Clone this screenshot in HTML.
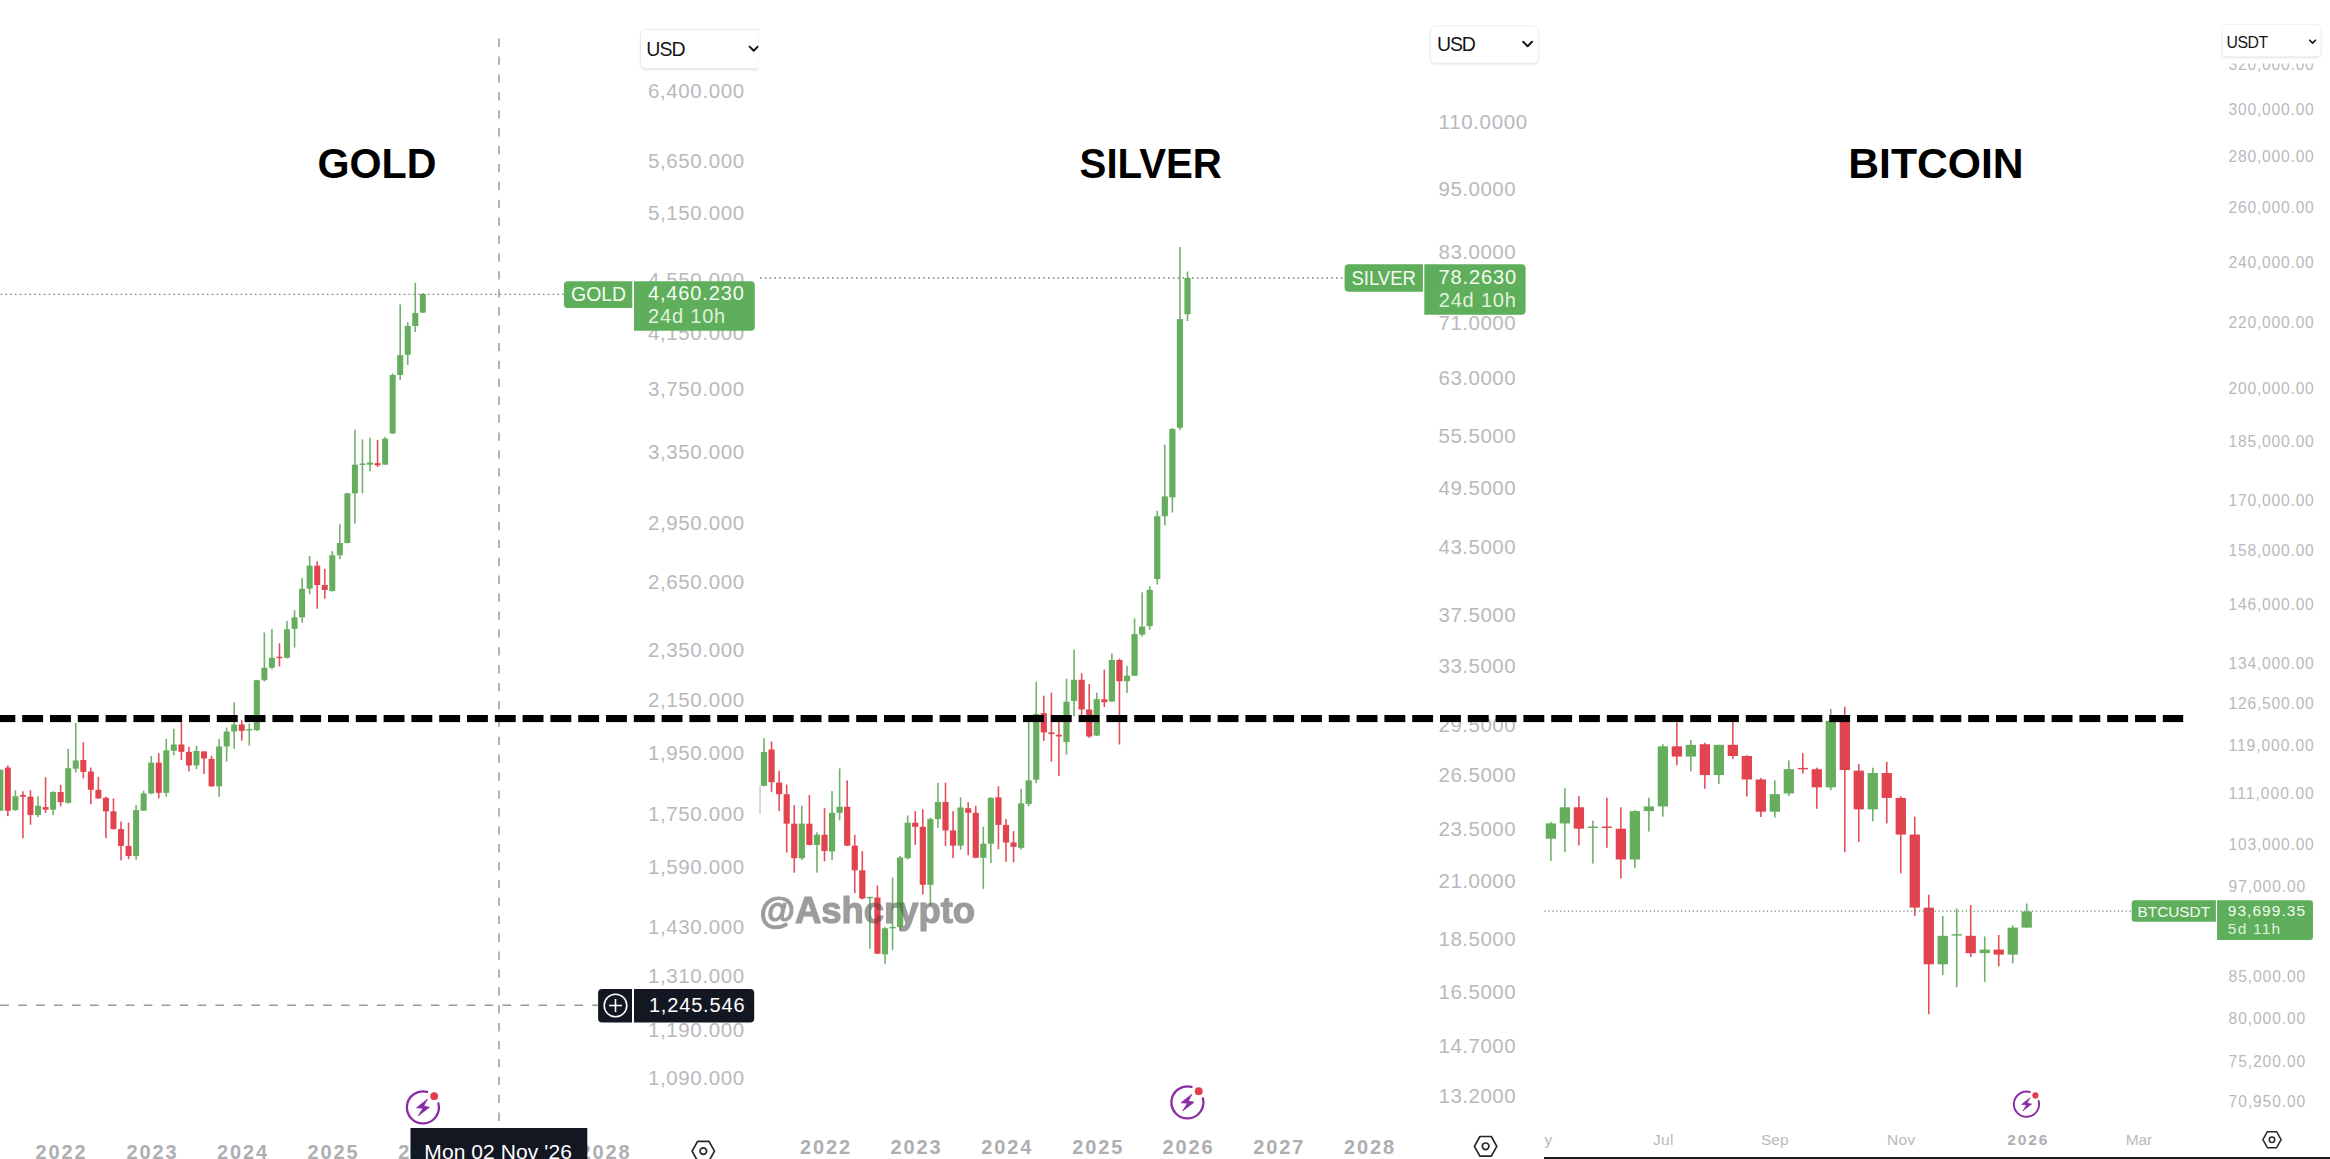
<!DOCTYPE html>
<html><head><meta charset="utf-8"><title>Gold Silver Bitcoin</title>
<style>html,body{margin:0;padding:0;background:#fff;}body{width:2330px;height:1159px;overflow:hidden;font-family:"Liberation Sans",sans-serif;}svg{display:block;}</style></head>
<body>
<svg width="2330" height="1159" viewBox="0 0 2330 1159" font-family="'Liberation Sans', sans-serif">
<rect x="0" y="0" width="2330" height="1159" fill="#ffffff"/>
<defs>
<clipPath id="cg"><rect x="0" y="0" width="758.5" height="1159"/></clipPath>
<clipPath id="cs"><rect x="759.5" y="0" width="784" height="1159"/></clipPath>
<clipPath id="cb"><rect x="1544" y="0" width="786" height="1159"/></clipPath>
<clipPath id="c320"><rect x="2200" y="63.6" width="130" height="20"/></clipPath>
<filter id="sh" x="-10%" y="-20%" width="120%" height="150%"><feGaussianBlur stdDeviation="1.2"/></filter>
</defs>
<g clip-path="url(#cg)">
<text x="647.90" y="98.14" font-size="20.5" fill="#b9b9bd" font-weight="normal" text-anchor="start" textLength="96.30" lengthAdjust="spacing" >6,400.000</text>
<text x="647.90" y="168.24" font-size="20.5" fill="#b9b9bd" font-weight="normal" text-anchor="start" textLength="96.30" lengthAdjust="spacing" >5,650.000</text>
<text x="647.90" y="219.64" font-size="20.5" fill="#b9b9bd" font-weight="normal" text-anchor="start" textLength="96.30" lengthAdjust="spacing" >5,150.000</text>
<text x="647.90" y="287.44" font-size="20.5" fill="#b9b9bd" font-weight="normal" text-anchor="start" textLength="96.30" lengthAdjust="spacing" >4,550.000</text>
<text x="647.90" y="340.44" font-size="20.5" fill="#b9b9bd" font-weight="normal" text-anchor="start" textLength="96.30" lengthAdjust="spacing" >4,150.000</text>
<text x="647.90" y="396.14" font-size="20.5" fill="#b9b9bd" font-weight="normal" text-anchor="start" textLength="96.30" lengthAdjust="spacing" >3,750.000</text>
<text x="647.90" y="459.44" font-size="20.5" fill="#b9b9bd" font-weight="normal" text-anchor="start" textLength="96.30" lengthAdjust="spacing" >3,350.000</text>
<text x="647.90" y="529.94" font-size="20.5" fill="#b9b9bd" font-weight="normal" text-anchor="start" textLength="96.30" lengthAdjust="spacing" >2,950.000</text>
<text x="647.90" y="589.44" font-size="20.5" fill="#b9b9bd" font-weight="normal" text-anchor="start" textLength="96.30" lengthAdjust="spacing" >2,650.000</text>
<text x="647.90" y="657.44" font-size="20.5" fill="#b9b9bd" font-weight="normal" text-anchor="start" textLength="96.30" lengthAdjust="spacing" >2,350.000</text>
<text x="647.90" y="706.94" font-size="20.5" fill="#b9b9bd" font-weight="normal" text-anchor="start" textLength="96.30" lengthAdjust="spacing" >2,150.000</text>
<text x="647.90" y="760.44" font-size="20.5" fill="#b9b9bd" font-weight="normal" text-anchor="start" textLength="96.30" lengthAdjust="spacing" >1,950.000</text>
<text x="647.90" y="821.44" font-size="20.5" fill="#b9b9bd" font-weight="normal" text-anchor="start" textLength="96.30" lengthAdjust="spacing" >1,750.000</text>
<text x="647.90" y="874.44" font-size="20.5" fill="#b9b9bd" font-weight="normal" text-anchor="start" textLength="96.30" lengthAdjust="spacing" >1,590.000</text>
<text x="647.90" y="933.64" font-size="20.5" fill="#b9b9bd" font-weight="normal" text-anchor="start" textLength="96.30" lengthAdjust="spacing" >1,430.000</text>
<text x="647.90" y="982.54" font-size="20.5" fill="#b9b9bd" font-weight="normal" text-anchor="start" textLength="96.30" lengthAdjust="spacing" >1,310.000</text>
<text x="647.90" y="1036.74" font-size="20.5" fill="#b9b9bd" font-weight="normal" text-anchor="start" textLength="96.30" lengthAdjust="spacing" >1,190.000</text>
<text x="647.90" y="1085.24" font-size="20.5" fill="#b9b9bd" font-weight="normal" text-anchor="start" textLength="96.30" lengthAdjust="spacing" >1,090.000</text>
<text x="35.60" y="1159.00" font-size="20" fill="#aeaeb2" font-weight="bold" text-anchor="start" textLength="50.10" lengthAdjust="spacing" >2022</text>
<text x="126.40" y="1159.00" font-size="20" fill="#aeaeb2" font-weight="bold" text-anchor="start" textLength="50.10" lengthAdjust="spacing" >2023</text>
<text x="217.10" y="1159.00" font-size="20" fill="#aeaeb2" font-weight="bold" text-anchor="start" textLength="50.10" lengthAdjust="spacing" >2024</text>
<text x="307.60" y="1159.00" font-size="20" fill="#aeaeb2" font-weight="bold" text-anchor="start" textLength="50.10" lengthAdjust="spacing" >2025</text>
<text x="398.30" y="1159.00" font-size="20" fill="#aeaeb2" font-weight="bold" text-anchor="start" textLength="50.10" lengthAdjust="spacing" >2026</text>
<text x="489.00" y="1159.00" font-size="20" fill="#aeaeb2" font-weight="bold" text-anchor="start" textLength="50.10" lengthAdjust="spacing" >2027</text>
<text x="579.40" y="1159.00" font-size="20" fill="#aeaeb2" font-weight="bold" text-anchor="start" textLength="50.10" lengthAdjust="spacing" >2028</text>
<line x1="499" y1="38.6" x2="499" y2="1128" stroke="#9a9a9c" stroke-width="1.5" stroke-dasharray="8.3 9.6"/>
<line x1="-17.74" y1="1005.2" x2="598" y2="1005.2" stroke="#9a9a9c" stroke-width="1.5" stroke-dasharray="8.7 9.24"/>
<rect x="-0.50" y="769.74" width="1.60" height="40.99" fill="#70b269"/>
<rect x="-2.70" y="769.74" width="6.00" height="40.99" fill="#66ad5e"/>
<rect x="7.04" y="765.43" width="1.60" height="50.70" fill="#e4505a"/>
<rect x="4.84" y="767.58" width="6.00" height="43.15" fill="#e2444f"/>
<rect x="14.59" y="790.24" width="1.60" height="20.50" fill="#70b269"/>
<rect x="12.39" y="796.28" width="6.00" height="13.81" fill="#66ad5e"/>
<rect x="22.13" y="791.32" width="1.60" height="46.82" fill="#e4505a"/>
<rect x="19.93" y="794.98" width="6.00" height="1.73" fill="#e2444f"/>
<rect x="29.68" y="790.24" width="1.60" height="34.52" fill="#e4505a"/>
<rect x="27.48" y="796.71" width="6.00" height="18.34" fill="#e2444f"/>
<rect x="37.23" y="796.28" width="1.60" height="20.93" fill="#70b269"/>
<rect x="35.02" y="805.77" width="6.00" height="9.28" fill="#66ad5e"/>
<rect x="44.77" y="777.29" width="1.60" height="35.60" fill="#e4505a"/>
<rect x="42.57" y="807.07" width="6.00" height="2.59" fill="#e2444f"/>
<rect x="52.31" y="791.32" width="1.60" height="23.73" fill="#70b269"/>
<rect x="50.11" y="791.96" width="6.00" height="17.69" fill="#66ad5e"/>
<rect x="59.86" y="784.84" width="1.60" height="21.57" fill="#e4505a"/>
<rect x="57.66" y="791.96" width="6.00" height="10.14" fill="#e2444f"/>
<rect x="67.41" y="748.81" width="1.60" height="54.80" fill="#70b269"/>
<rect x="65.20" y="768.23" width="6.00" height="34.52" fill="#66ad5e"/>
<rect x="74.95" y="722.92" width="1.60" height="49.62" fill="#70b269"/>
<rect x="72.75" y="760.46" width="6.00" height="8.20" fill="#66ad5e"/>
<rect x="82.50" y="742.34" width="1.60" height="36.03" fill="#e4505a"/>
<rect x="80.30" y="760.03" width="6.00" height="11.87" fill="#e2444f"/>
<rect x="90.04" y="767.58" width="1.60" height="36.68" fill="#e4505a"/>
<rect x="87.84" y="771.47" width="6.00" height="18.34" fill="#e2444f"/>
<rect x="97.58" y="776.86" width="1.60" height="22.01" fill="#e4505a"/>
<rect x="95.38" y="789.81" width="6.00" height="8.63" fill="#e2444f"/>
<rect x="105.13" y="796.71" width="1.60" height="41.42" fill="#e4505a"/>
<rect x="102.93" y="797.79" width="6.00" height="13.59" fill="#e2444f"/>
<rect x="112.67" y="798.44" width="1.60" height="31.07" fill="#e4505a"/>
<rect x="110.47" y="811.38" width="6.00" height="17.69" fill="#e2444f"/>
<rect x="120.22" y="821.52" width="1.60" height="38.83" fill="#e4505a"/>
<rect x="118.02" y="829.07" width="6.00" height="16.83" fill="#e2444f"/>
<rect x="127.77" y="822.60" width="1.60" height="36.68" fill="#e4505a"/>
<rect x="125.56" y="845.90" width="6.00" height="10.14" fill="#e2444f"/>
<rect x="135.31" y="804.91" width="1.60" height="54.80" fill="#70b269"/>
<rect x="133.11" y="810.09" width="6.00" height="45.95" fill="#66ad5e"/>
<rect x="142.85" y="790.67" width="1.60" height="20.06" fill="#70b269"/>
<rect x="140.66" y="793.47" width="6.00" height="17.26" fill="#66ad5e"/>
<rect x="150.40" y="756.15" width="1.60" height="37.97" fill="#70b269"/>
<rect x="148.20" y="762.62" width="6.00" height="30.85" fill="#66ad5e"/>
<rect x="157.94" y="753.13" width="1.60" height="45.31" fill="#e4505a"/>
<rect x="155.75" y="762.62" width="6.00" height="30.20" fill="#e2444f"/>
<rect x="165.49" y="738.89" width="1.60" height="57.82" fill="#70b269"/>
<rect x="163.29" y="750.32" width="6.00" height="42.50" fill="#66ad5e"/>
<rect x="173.03" y="728.75" width="1.60" height="26.54" fill="#70b269"/>
<rect x="170.84" y="744.50" width="6.00" height="6.26" fill="#66ad5e"/>
<rect x="180.58" y="722.28" width="1.60" height="37.76" fill="#e4505a"/>
<rect x="178.38" y="744.50" width="6.00" height="7.34" fill="#e2444f"/>
<rect x="188.12" y="746.66" width="1.60" height="24.81" fill="#e4505a"/>
<rect x="185.93" y="751.83" width="6.00" height="13.59" fill="#e2444f"/>
<rect x="195.67" y="745.58" width="1.60" height="23.52" fill="#70b269"/>
<rect x="193.47" y="750.97" width="6.00" height="14.46" fill="#66ad5e"/>
<rect x="203.22" y="751.40" width="1.60" height="22.65" fill="#e4505a"/>
<rect x="201.02" y="751.40" width="6.00" height="7.12" fill="#e2444f"/>
<rect x="210.76" y="755.72" width="1.60" height="31.07" fill="#e4505a"/>
<rect x="208.56" y="758.95" width="6.00" height="27.40" fill="#e2444f"/>
<rect x="218.31" y="739.10" width="1.60" height="57.61" fill="#70b269"/>
<rect x="216.11" y="746.44" width="6.00" height="39.91" fill="#66ad5e"/>
<rect x="225.85" y="727.67" width="1.60" height="34.09" fill="#70b269"/>
<rect x="223.65" y="731.55" width="6.00" height="14.89" fill="#66ad5e"/>
<rect x="233.40" y="702.21" width="1.60" height="46.60" fill="#70b269"/>
<rect x="231.20" y="724.43" width="6.00" height="7.12" fill="#66ad5e"/>
<rect x="240.94" y="720.12" width="1.60" height="20.50" fill="#e4505a"/>
<rect x="238.74" y="724.43" width="6.00" height="6.47" fill="#e2444f"/>
<rect x="248.48" y="723.35" width="1.60" height="22.22" fill="#70b269"/>
<rect x="246.28" y="729.13" width="6.00" height="1.40" fill="#66ad5e"/>
<rect x="256.03" y="679.77" width="1.60" height="51.13" fill="#70b269"/>
<rect x="253.83" y="680.20" width="6.00" height="50.05" fill="#66ad5e"/>
<rect x="263.57" y="632.51" width="1.60" height="48.98" fill="#70b269"/>
<rect x="261.38" y="667.68" width="6.00" height="12.51" fill="#66ad5e"/>
<rect x="271.12" y="628.85" width="1.60" height="40.35" fill="#70b269"/>
<rect x="268.92" y="657.76" width="6.00" height="9.92" fill="#66ad5e"/>
<rect x="278.67" y="643.30" width="1.60" height="23.09" fill="#e4505a"/>
<rect x="276.47" y="656.73" width="6.00" height="1.40" fill="#e2444f"/>
<rect x="286.21" y="621.08" width="1.60" height="37.32" fill="#70b269"/>
<rect x="284.01" y="629.28" width="6.00" height="28.48" fill="#66ad5e"/>
<rect x="293.75" y="610.29" width="1.60" height="37.32" fill="#70b269"/>
<rect x="291.56" y="617.41" width="6.00" height="11.43" fill="#66ad5e"/>
<rect x="301.30" y="577.93" width="1.60" height="44.88" fill="#70b269"/>
<rect x="299.10" y="588.72" width="6.00" height="28.69" fill="#66ad5e"/>
<rect x="308.84" y="555.92" width="1.60" height="38.40" fill="#70b269"/>
<rect x="306.64" y="565.63" width="6.00" height="23.09" fill="#66ad5e"/>
<rect x="316.39" y="561.32" width="1.60" height="47.46" fill="#e4505a"/>
<rect x="314.19" y="565.63" width="6.00" height="19.42" fill="#e2444f"/>
<rect x="323.94" y="568.87" width="1.60" height="29.77" fill="#e4505a"/>
<rect x="321.74" y="585.05" width="6.00" height="4.96" fill="#e2444f"/>
<rect x="331.48" y="551.18" width="1.60" height="40.35" fill="#70b269"/>
<rect x="329.28" y="555.28" width="6.00" height="35.81" fill="#66ad5e"/>
<rect x="339.02" y="524.21" width="1.60" height="34.95" fill="#70b269"/>
<rect x="336.82" y="542.98" width="6.00" height="12.30" fill="#66ad5e"/>
<rect x="346.57" y="492.92" width="1.60" height="50.49" fill="#70b269"/>
<rect x="344.37" y="493.35" width="6.00" height="49.62" fill="#66ad5e"/>
<rect x="354.12" y="429.71" width="1.60" height="93.85" fill="#70b269"/>
<rect x="351.92" y="464.66" width="6.00" height="28.69" fill="#66ad5e"/>
<rect x="361.66" y="439.42" width="1.60" height="53.94" fill="#70b269"/>
<rect x="359.46" y="463.53" width="6.00" height="1.40" fill="#66ad5e"/>
<rect x="369.20" y="437.69" width="1.60" height="33.66" fill="#70b269"/>
<rect x="367.00" y="462.50" width="6.00" height="2.16" fill="#66ad5e"/>
<rect x="376.75" y="439.85" width="1.60" height="27.18" fill="#e4505a"/>
<rect x="374.55" y="463.15" width="6.00" height="2.16" fill="#e2444f"/>
<rect x="384.30" y="436.83" width="1.60" height="28.05" fill="#70b269"/>
<rect x="382.10" y="438.77" width="6.00" height="25.89" fill="#66ad5e"/>
<rect x="391.84" y="373.47" width="1.60" height="60.41" fill="#70b269"/>
<rect x="389.64" y="374.98" width="6.00" height="58.47" fill="#66ad5e"/>
<rect x="399.38" y="304.43" width="1.60" height="75.51" fill="#70b269"/>
<rect x="397.19" y="355.13" width="6.00" height="19.85" fill="#66ad5e"/>
<rect x="406.93" y="322.34" width="1.60" height="42.50" fill="#70b269"/>
<rect x="404.73" y="326.01" width="6.00" height="28.69" fill="#66ad5e"/>
<rect x="414.48" y="282.86" width="1.60" height="49.19" fill="#70b269"/>
<rect x="412.28" y="313.06" width="6.00" height="12.94" fill="#66ad5e"/>
<rect x="422.02" y="293.00" width="1.60" height="20.06" fill="#70b269"/>
<rect x="419.82" y="294.08" width="6.00" height="18.55" fill="#66ad5e"/>
<line x1="0.5" y1="294.3" x2="564" y2="294.3" stroke="#768a73" stroke-width="1.35" stroke-dasharray="1.6 3.2"/>
<rect x="640.5" y="30.5" width="130" height="39.5" rx="5" fill="#000" opacity="0.10" filter="url(#sh)"/>
<rect x="640.5" y="29.3" width="130" height="39.5" rx="5" fill="#fff" stroke="#e8e8eb" stroke-width="1"/>
<text x="646.20" y="56.10" font-size="19.5" fill="#16161a" font-weight="normal" text-anchor="start" textLength="39.50" lengthAdjust="spacing" >USD</text>
<path d="M749.6 46.6 L753.7 50.7 L757.8 46.6" fill="none" stroke="#16161a" stroke-width="2" stroke-linecap="round" stroke-linejoin="round"/>
<path d="M567.9 281.3 H632.3 V308.1 H567.9 a4 4 0 0 1 -4 -4 V285.3 a4 4 0 0 1 4 -4 Z" fill="#5fae5c"/>
<path d="M634 281.3 H750.8 a4 4 0 0 1 4 4 V326.8 a4 4 0 0 1 -4 4 H634 Z" fill="#5fae5c"/>
<text x="571.0" y="301.3" font-size="20.8" fill="#f4fbf1" textLength="55.2" lengthAdjust="spacingAndGlyphs">GOLD</text>
<text x="647.90" y="300.40" font-size="20" fill="#f4fbf1" font-weight="normal" text-anchor="start" textLength="96.00" lengthAdjust="spacing" >4,460.230</text>
<text x="648.00" y="322.80" font-size="20" fill="#dff3da" font-weight="normal" text-anchor="start" textLength="77.20" lengthAdjust="spacing" >24d 10h</text>
<path d="M602.1 989.1 H632 V1022.5 H602.1 a4 4 0 0 1 -4 -4 V993.1 a4 4 0 0 1 4 -4 Z" fill="#131722"/>
<path d="M634 989.1 H750.2 a4 4 0 0 1 4 4 V1018.5 a4 4 0 0 1 -4 4 H634 Z" fill="#131722"/>
<circle cx="615.5" cy="1005.5" r="11.3" fill="none" stroke="#fff" stroke-width="1.6"/>
<path d="M609.0 1005.5 H622.0 M615.5 999.0 V1012.0" stroke="#fff" stroke-width="1.6" fill="none"/>
<text x="648.90" y="1011.70" font-size="20" fill="#ffffff" font-weight="normal" text-anchor="start" textLength="95.60" lengthAdjust="spacing" >1,245.546</text>
<rect x="410.5" y="1128" width="176.8" height="40" fill="#131722"/>
<text x="424.30" y="1159.00" font-size="21" fill="#ffffff" font-weight="normal" text-anchor="start" textLength="147.60" lengthAdjust="spacing" >Mon 02 Nov '26</text>
</g>
<g clip-path="url(#cs)">
<text x="1438.60" y="129.04" font-size="20.5" fill="#b9b9bd" font-weight="normal" text-anchor="start" textLength="88.60" lengthAdjust="spacing" >110.0000</text>
<text x="1438.60" y="195.74" font-size="20.5" fill="#b9b9bd" font-weight="normal" text-anchor="start" textLength="77.00" lengthAdjust="spacing" >95.0000</text>
<text x="1438.60" y="258.54" font-size="20.5" fill="#b9b9bd" font-weight="normal" text-anchor="start" textLength="77.00" lengthAdjust="spacing" >83.0000</text>
<text x="1438.60" y="329.84" font-size="20.5" fill="#b9b9bd" font-weight="normal" text-anchor="start" textLength="77.00" lengthAdjust="spacing" >71.0000</text>
<text x="1438.60" y="384.74" font-size="20.5" fill="#b9b9bd" font-weight="normal" text-anchor="start" textLength="77.00" lengthAdjust="spacing" >63.0000</text>
<text x="1438.60" y="442.74" font-size="20.5" fill="#b9b9bd" font-weight="normal" text-anchor="start" textLength="77.00" lengthAdjust="spacing" >55.5000</text>
<text x="1438.60" y="495.14" font-size="20.5" fill="#b9b9bd" font-weight="normal" text-anchor="start" textLength="77.00" lengthAdjust="spacing" >49.5000</text>
<text x="1438.60" y="554.44" font-size="20.5" fill="#b9b9bd" font-weight="normal" text-anchor="start" textLength="77.00" lengthAdjust="spacing" >43.5000</text>
<text x="1438.60" y="622.44" font-size="20.5" fill="#b9b9bd" font-weight="normal" text-anchor="start" textLength="77.00" lengthAdjust="spacing" >37.5000</text>
<text x="1438.60" y="673.44" font-size="20.5" fill="#b9b9bd" font-weight="normal" text-anchor="start" textLength="77.00" lengthAdjust="spacing" >33.5000</text>
<text x="1438.60" y="732.44" font-size="20.5" fill="#b9b9bd" font-weight="normal" text-anchor="start" textLength="77.00" lengthAdjust="spacing" >29.5000</text>
<text x="1438.60" y="782.44" font-size="20.5" fill="#b9b9bd" font-weight="normal" text-anchor="start" textLength="77.00" lengthAdjust="spacing" >26.5000</text>
<text x="1438.60" y="836.44" font-size="20.5" fill="#b9b9bd" font-weight="normal" text-anchor="start" textLength="77.00" lengthAdjust="spacing" >23.5000</text>
<text x="1438.60" y="888.44" font-size="20.5" fill="#b9b9bd" font-weight="normal" text-anchor="start" textLength="77.00" lengthAdjust="spacing" >21.0000</text>
<text x="1438.60" y="946.44" font-size="20.5" fill="#b9b9bd" font-weight="normal" text-anchor="start" textLength="77.00" lengthAdjust="spacing" >18.5000</text>
<text x="1438.60" y="999.44" font-size="20.5" fill="#b9b9bd" font-weight="normal" text-anchor="start" textLength="77.00" lengthAdjust="spacing" >16.5000</text>
<text x="1438.60" y="1052.84" font-size="20.5" fill="#b9b9bd" font-weight="normal" text-anchor="start" textLength="77.00" lengthAdjust="spacing" >14.7000</text>
<text x="1438.60" y="1102.54" font-size="20.5" fill="#b9b9bd" font-weight="normal" text-anchor="start" textLength="77.00" lengthAdjust="spacing" >13.2000</text>
<text x="800.10" y="1153.80" font-size="20" fill="#aeaeb2" font-weight="bold" text-anchor="start" textLength="50.10" lengthAdjust="spacing" >2022</text>
<text x="890.60" y="1153.80" font-size="20" fill="#aeaeb2" font-weight="bold" text-anchor="start" textLength="50.10" lengthAdjust="spacing" >2023</text>
<text x="981.20" y="1153.80" font-size="20" fill="#aeaeb2" font-weight="bold" text-anchor="start" textLength="50.10" lengthAdjust="spacing" >2024</text>
<text x="1072.20" y="1153.80" font-size="20" fill="#aeaeb2" font-weight="bold" text-anchor="start" textLength="50.10" lengthAdjust="spacing" >2025</text>
<text x="1162.50" y="1153.80" font-size="20" fill="#aeaeb2" font-weight="bold" text-anchor="start" textLength="50.10" lengthAdjust="spacing" >2026</text>
<text x="1253.30" y="1153.80" font-size="20" fill="#aeaeb2" font-weight="bold" text-anchor="start" textLength="50.10" lengthAdjust="spacing" >2027</text>
<text x="1344.00" y="1153.80" font-size="20" fill="#aeaeb2" font-weight="bold" text-anchor="start" textLength="50.10" lengthAdjust="spacing" >2028</text>
<rect x="759.2" y="785.5" width="1.3" height="28.5" fill="#93c08e"/>
<text x="759.6" y="922.6" font-size="37" font-weight="bold" fill="#d2d2d2" stroke="#d2d2d2" stroke-width="1.1" stroke-linejoin="round" textLength="215.5" lengthAdjust="spacingAndGlyphs">@Ashcrypto</text>
<rect x="763.20" y="738.16" width="1.60" height="48.31" fill="#70b269"/>
<rect x="760.90" y="751.93" width="6.20" height="33.82" fill="#66ad5e"/>
<rect x="770.76" y="741.55" width="1.60" height="50.24" fill="#e4505a"/>
<rect x="768.46" y="749.52" width="6.20" height="32.61" fill="#e2444f"/>
<rect x="778.33" y="770.77" width="1.60" height="40.34" fill="#e4505a"/>
<rect x="776.02" y="782.61" width="6.20" height="11.59" fill="#e2444f"/>
<rect x="785.89" y="784.54" width="1.60" height="68.12" fill="#e4505a"/>
<rect x="783.59" y="794.20" width="6.20" height="29.47" fill="#e2444f"/>
<rect x="793.45" y="805.07" width="1.60" height="67.63" fill="#e4505a"/>
<rect x="791.15" y="823.67" width="6.20" height="34.54" fill="#e2444f"/>
<rect x="801.01" y="805.80" width="1.60" height="54.35" fill="#70b269"/>
<rect x="798.71" y="823.67" width="6.20" height="34.54" fill="#66ad5e"/>
<rect x="808.58" y="794.93" width="1.60" height="50.48" fill="#e4505a"/>
<rect x="806.27" y="823.67" width="6.20" height="21.26" fill="#e2444f"/>
<rect x="816.14" y="832.37" width="1.60" height="40.34" fill="#70b269"/>
<rect x="813.84" y="834.78" width="6.20" height="10.14" fill="#66ad5e"/>
<rect x="823.70" y="808.21" width="1.60" height="53.14" fill="#e4505a"/>
<rect x="821.40" y="834.78" width="6.20" height="16.18" fill="#e2444f"/>
<rect x="831.26" y="791.06" width="1.60" height="69.08" fill="#70b269"/>
<rect x="828.96" y="812.80" width="6.20" height="38.65" fill="#66ad5e"/>
<rect x="838.83" y="768.36" width="1.60" height="51.93" fill="#70b269"/>
<rect x="836.52" y="806.76" width="6.20" height="6.04" fill="#66ad5e"/>
<rect x="846.39" y="780.43" width="1.60" height="65.70" fill="#e4505a"/>
<rect x="844.09" y="806.76" width="6.20" height="38.89" fill="#e2444f"/>
<rect x="853.95" y="834.78" width="1.60" height="58.45" fill="#e4505a"/>
<rect x="851.65" y="845.65" width="6.20" height="24.64" fill="#e2444f"/>
<rect x="861.51" y="850.97" width="1.60" height="48.31" fill="#e4505a"/>
<rect x="859.21" y="870.29" width="6.20" height="28.26" fill="#e2444f"/>
<rect x="869.08" y="896.86" width="1.60" height="51.93" fill="#70b269"/>
<rect x="866.77" y="896.88" width="6.20" height="1.40" fill="#66ad5e"/>
<rect x="876.64" y="885.51" width="1.60" height="68.60" fill="#e4505a"/>
<rect x="874.34" y="897.58" width="6.20" height="56.04" fill="#e2444f"/>
<rect x="884.20" y="927.05" width="1.60" height="36.71" fill="#70b269"/>
<rect x="881.90" y="928.26" width="6.20" height="26.09" fill="#66ad5e"/>
<rect x="891.76" y="877.54" width="1.60" height="72.46" fill="#70b269"/>
<rect x="889.46" y="926.96" width="6.20" height="1.40" fill="#66ad5e"/>
<rect x="899.33" y="855.80" width="1.60" height="74.88" fill="#70b269"/>
<rect x="897.02" y="857.49" width="6.20" height="69.57" fill="#66ad5e"/>
<rect x="906.89" y="815.46" width="1.60" height="43.96" fill="#70b269"/>
<rect x="904.59" y="822.71" width="6.20" height="35.51" fill="#66ad5e"/>
<rect x="914.45" y="811.11" width="1.60" height="33.82" fill="#e4505a"/>
<rect x="912.15" y="822.71" width="6.20" height="4.11" fill="#e2444f"/>
<rect x="922.01" y="809.18" width="1.60" height="85.27" fill="#e4505a"/>
<rect x="919.71" y="826.81" width="6.20" height="57.97" fill="#e2444f"/>
<rect x="929.58" y="817.63" width="1.60" height="87.68" fill="#70b269"/>
<rect x="927.27" y="819.08" width="6.20" height="65.70" fill="#66ad5e"/>
<rect x="937.14" y="782.85" width="1.60" height="45.17" fill="#70b269"/>
<rect x="934.84" y="801.93" width="6.20" height="17.15" fill="#66ad5e"/>
<rect x="944.70" y="782.61" width="1.60" height="63.53" fill="#e4505a"/>
<rect x="942.40" y="801.93" width="6.20" height="28.50" fill="#e2444f"/>
<rect x="952.26" y="811.11" width="1.60" height="47.10" fill="#e4505a"/>
<rect x="949.96" y="830.43" width="6.20" height="15.22" fill="#e2444f"/>
<rect x="959.83" y="797.34" width="1.60" height="52.42" fill="#70b269"/>
<rect x="957.52" y="807.49" width="6.20" height="38.16" fill="#66ad5e"/>
<rect x="967.39" y="802.17" width="1.60" height="53.14" fill="#e4505a"/>
<rect x="965.09" y="808.21" width="6.20" height="4.59" fill="#e2444f"/>
<rect x="974.95" y="805.80" width="1.60" height="52.42" fill="#e4505a"/>
<rect x="972.65" y="812.80" width="6.20" height="44.93" fill="#e2444f"/>
<rect x="982.51" y="826.81" width="1.60" height="62.08" fill="#70b269"/>
<rect x="980.21" y="843.72" width="6.20" height="14.01" fill="#66ad5e"/>
<rect x="990.08" y="797.34" width="1.60" height="65.70" fill="#70b269"/>
<rect x="987.77" y="797.83" width="6.20" height="45.89" fill="#66ad5e"/>
<rect x="997.64" y="786.23" width="1.60" height="63.04" fill="#e4505a"/>
<rect x="995.34" y="797.34" width="6.20" height="27.54" fill="#e2444f"/>
<rect x="1005.20" y="819.08" width="1.60" height="42.75" fill="#e4505a"/>
<rect x="1002.90" y="824.88" width="6.20" height="17.63" fill="#e2444f"/>
<rect x="1012.76" y="831.16" width="1.60" height="31.16" fill="#e4505a"/>
<rect x="1010.46" y="842.51" width="6.20" height="4.35" fill="#e2444f"/>
<rect x="1020.33" y="788.89" width="1.60" height="60.87" fill="#70b269"/>
<rect x="1018.02" y="803.38" width="6.20" height="44.44" fill="#66ad5e"/>
<rect x="1027.89" y="720.53" width="1.60" height="85.75" fill="#70b269"/>
<rect x="1025.59" y="780.43" width="6.20" height="23.43" fill="#66ad5e"/>
<rect x="1035.45" y="681.70" width="1.60" height="101.60" fill="#70b269"/>
<rect x="1033.15" y="714.00" width="6.20" height="65.70" fill="#66ad5e"/>
<rect x="1043.01" y="695.70" width="1.60" height="45.20" fill="#e4505a"/>
<rect x="1040.71" y="713.10" width="6.20" height="19.30" fill="#e2444f"/>
<rect x="1050.58" y="692.60" width="1.60" height="69.00" fill="#e4505a"/>
<rect x="1048.28" y="732.40" width="6.20" height="1.70" fill="#e2444f"/>
<rect x="1058.14" y="721.50" width="1.60" height="54.60" fill="#e4505a"/>
<rect x="1055.84" y="734.80" width="6.20" height="1.70" fill="#e2444f"/>
<rect x="1065.70" y="678.80" width="1.60" height="75.80" fill="#70b269"/>
<rect x="1063.40" y="701.70" width="6.20" height="40.40" fill="#66ad5e"/>
<rect x="1073.26" y="649.60" width="1.60" height="66.60" fill="#70b269"/>
<rect x="1070.96" y="679.80" width="6.20" height="21.20" fill="#66ad5e"/>
<rect x="1080.83" y="673.20" width="1.60" height="42.30" fill="#e4505a"/>
<rect x="1078.53" y="679.80" width="6.20" height="29.70" fill="#e2444f"/>
<rect x="1088.39" y="684.10" width="1.60" height="53.90" fill="#e4505a"/>
<rect x="1086.09" y="709.50" width="6.20" height="27.00" fill="#e2444f"/>
<rect x="1095.95" y="692.60" width="1.60" height="43.40" fill="#70b269"/>
<rect x="1093.65" y="699.10" width="6.20" height="36.50" fill="#66ad5e"/>
<rect x="1103.51" y="669.60" width="1.60" height="37.40" fill="#e4505a"/>
<rect x="1101.21" y="699.30" width="6.20" height="2.90" fill="#e2444f"/>
<rect x="1111.08" y="653.40" width="1.60" height="48.80" fill="#70b269"/>
<rect x="1108.78" y="660.00" width="6.20" height="41.50" fill="#66ad5e"/>
<rect x="1118.64" y="658.70" width="1.60" height="85.80" fill="#e4505a"/>
<rect x="1116.34" y="660.00" width="6.20" height="21.20" fill="#e2444f"/>
<rect x="1126.20" y="666.00" width="1.60" height="27.00" fill="#70b269"/>
<rect x="1123.90" y="675.70" width="6.20" height="5.50" fill="#66ad5e"/>
<rect x="1133.76" y="618.40" width="1.60" height="57.70" fill="#70b269"/>
<rect x="1131.46" y="634.10" width="6.20" height="41.60" fill="#66ad5e"/>
<rect x="1141.33" y="592.30" width="1.60" height="44.20" fill="#70b269"/>
<rect x="1139.03" y="626.60" width="6.20" height="8.00" fill="#66ad5e"/>
<rect x="1148.89" y="586.30" width="1.60" height="43.50" fill="#70b269"/>
<rect x="1146.59" y="589.90" width="6.20" height="36.20" fill="#66ad5e"/>
<rect x="1156.45" y="510.90" width="1.60" height="73.70" fill="#70b269"/>
<rect x="1154.15" y="516.20" width="6.20" height="62.80" fill="#66ad5e"/>
<rect x="1164.01" y="444.70" width="1.60" height="80.70" fill="#70b269"/>
<rect x="1161.71" y="496.40" width="6.20" height="19.80" fill="#66ad5e"/>
<rect x="1171.58" y="428.00" width="1.60" height="84.60" fill="#70b269"/>
<rect x="1169.28" y="429.00" width="6.20" height="68.40" fill="#66ad5e"/>
<rect x="1179.14" y="247.10" width="1.60" height="182.90" fill="#70b269"/>
<rect x="1176.84" y="319.10" width="6.20" height="108.70" fill="#66ad5e"/>
<rect x="1186.70" y="271.50" width="1.60" height="49.50" fill="#70b269"/>
<rect x="1184.40" y="278.00" width="6.20" height="36.20" fill="#66ad5e"/>
<line x1="760" y1="278" x2="1345" y2="278" stroke="#768a73" stroke-width="1.35" stroke-dasharray="1.6 3.2"/>
<rect x="1430.4" y="27.5" width="108.1" height="37" rx="5" fill="#000" opacity="0.10" filter="url(#sh)"/>
<rect x="1430.4" y="25.8" width="108.1" height="37.5" rx="5" fill="#fff" stroke="#ededf0" stroke-width="1"/>
<text x="1436.90" y="51.40" font-size="19.5" fill="#16161a" font-weight="normal" text-anchor="start" textLength="39.00" lengthAdjust="spacing" >USD</text>
<path d="M1523.2 41.8 L1527.6 46.2 L1532.0 41.8" fill="none" stroke="#16161a" stroke-width="2" stroke-linecap="round" stroke-linejoin="round"/>
<path d="M1348.6 264.2 H1422.9 V291.8 H1348.6 a4 4 0 0 1 -4 -4 V268.2 a4 4 0 0 1 4 -4 Z" fill="#5fae5c"/>
<path d="M1424.3 264.2 H1521.6 a4 4 0 0 1 4 4 V310.7 a4 4 0 0 1 -4 4 H1424.3 Z" fill="#5fae5c"/>
<text x="1351.4" y="284.7" font-size="20.8" fill="#f4fbf1" textLength="64.6" lengthAdjust="spacingAndGlyphs">SILVER</text>
<text x="1438.60" y="284.20" font-size="20" fill="#f4fbf1" font-weight="normal" text-anchor="start" textLength="77.60" lengthAdjust="spacing" >78.2630</text>
<text x="1438.70" y="307.20" font-size="20" fill="#dff3da" font-weight="normal" text-anchor="start" textLength="77.20" lengthAdjust="spacing" >24d 10h</text>
</g>
<g clip-path="url(#cb)">
<text x="2228.60" y="114.90" font-size="15.6" fill="#b9b9bd" font-weight="normal" text-anchor="start" textLength="85.20" lengthAdjust="spacing" >300,000.00</text>
<text x="2228.60" y="162.36" font-size="15.6" fill="#b9b9bd" font-weight="normal" text-anchor="start" textLength="85.20" lengthAdjust="spacing" >280,000.00</text>
<text x="2228.60" y="213.34" font-size="15.6" fill="#b9b9bd" font-weight="normal" text-anchor="start" textLength="85.20" lengthAdjust="spacing" >260,000.00</text>
<text x="2228.60" y="268.40" font-size="15.6" fill="#b9b9bd" font-weight="normal" text-anchor="start" textLength="85.20" lengthAdjust="spacing" >240,000.00</text>
<text x="2228.60" y="328.26" font-size="15.6" fill="#b9b9bd" font-weight="normal" text-anchor="start" textLength="85.20" lengthAdjust="spacing" >220,000.00</text>
<text x="2228.60" y="393.82" font-size="15.6" fill="#b9b9bd" font-weight="normal" text-anchor="start" textLength="85.20" lengthAdjust="spacing" >200,000.00</text>
<text x="2228.60" y="447.45" font-size="15.6" fill="#b9b9bd" font-weight="normal" text-anchor="start" textLength="85.20" lengthAdjust="spacing" >185,000.00</text>
<text x="2228.60" y="505.62" font-size="15.6" fill="#b9b9bd" font-weight="normal" text-anchor="start" textLength="85.20" lengthAdjust="spacing" >170,000.00</text>
<text x="2228.60" y="555.97" font-size="15.6" fill="#b9b9bd" font-weight="normal" text-anchor="start" textLength="85.20" lengthAdjust="spacing" >158,000.00</text>
<text x="2228.60" y="610.31" font-size="15.6" fill="#b9b9bd" font-weight="normal" text-anchor="start" textLength="85.20" lengthAdjust="spacing" >146,000.00</text>
<text x="2228.60" y="669.31" font-size="15.6" fill="#b9b9bd" font-weight="normal" text-anchor="start" textLength="85.20" lengthAdjust="spacing" >134,000.00</text>
<text x="2228.60" y="708.93" font-size="15.6" fill="#b9b9bd" font-weight="normal" text-anchor="start" textLength="85.20" lengthAdjust="spacing" >126,500.00</text>
<text x="2228.60" y="750.97" font-size="15.6" fill="#b9b9bd" font-weight="normal" text-anchor="start" textLength="85.20" lengthAdjust="spacing" >119,000.00</text>
<text x="2228.60" y="798.84" font-size="15.6" fill="#b9b9bd" font-weight="normal" text-anchor="start" textLength="85.20" lengthAdjust="spacing" >111,000.00</text>
<text x="2228.60" y="850.30" font-size="15.6" fill="#b9b9bd" font-weight="normal" text-anchor="start" textLength="85.20" lengthAdjust="spacing" >103,000.00</text>
<text x="2228.60" y="891.58" font-size="15.6" fill="#b9b9bd" font-weight="normal" text-anchor="start" textLength="76.60" lengthAdjust="spacing" >97,000.00</text>
<text x="2228.60" y="982.43" font-size="15.6" fill="#b9b9bd" font-weight="normal" text-anchor="start" textLength="76.60" lengthAdjust="spacing" >85,000.00</text>
<text x="2228.60" y="1024.13" font-size="15.6" fill="#b9b9bd" font-weight="normal" text-anchor="start" textLength="76.60" lengthAdjust="spacing" >80,000.00</text>
<text x="2228.60" y="1066.69" font-size="15.6" fill="#b9b9bd" font-weight="normal" text-anchor="start" textLength="76.60" lengthAdjust="spacing" >75,200.00</text>
<text x="2228.60" y="1106.71" font-size="15.6" fill="#b9b9bd" font-weight="normal" text-anchor="start" textLength="76.60" lengthAdjust="spacing" >70,950.00</text>
<g clip-path="url(#c320)">
<text x="2228.60" y="70.11" font-size="15.6" fill="#b9b9bd" font-weight="normal" text-anchor="start" textLength="85.20" lengthAdjust="spacing" >320,000.00</text>
</g>
<text x="1544.40" y="1145.00" font-size="15.5" fill="#b9b9bd" font-weight="normal" text-anchor="start" textLength="7.90" lengthAdjust="spacing" >y</text>
<text x="1652.90" y="1145.00" font-size="15.5" fill="#b9b9bd" font-weight="normal" text-anchor="start" textLength="20.60" lengthAdjust="spacing" >Jul</text>
<text x="1761.00" y="1145.00" font-size="15.5" fill="#b9b9bd" font-weight="normal" text-anchor="start" textLength="27.50" lengthAdjust="spacing" >Sep</text>
<text x="1887.00" y="1145.00" font-size="15.5" fill="#b9b9bd" font-weight="normal" text-anchor="start" textLength="28.20" lengthAdjust="spacing" >Nov</text>
<text x="2007.30" y="1145.00" font-size="15.5" fill="#aeaeb2" font-weight="bold" text-anchor="start" textLength="40.10" lengthAdjust="spacing" >2026</text>
<text x="2125.70" y="1145.00" font-size="15.5" fill="#b9b9bd" font-weight="normal" text-anchor="start" textLength="26.50" lengthAdjust="spacing" >Mar</text>
<rect x="1543.7" y="1157" width="790" height="2" fill="#1c1c20"/>
<rect x="1550.10" y="821.96" width="1.60" height="39.00" fill="#70b269"/>
<rect x="1545.75" y="823.43" width="10.30" height="15.25" fill="#66ad5e"/>
<rect x="1564.10" y="788.24" width="1.60" height="63.93" fill="#70b269"/>
<rect x="1559.74" y="807.30" width="10.30" height="16.13" fill="#66ad5e"/>
<rect x="1578.09" y="796.16" width="1.60" height="49.27" fill="#e4505a"/>
<rect x="1573.74" y="807.30" width="10.30" height="21.41" fill="#e2444f"/>
<rect x="1592.09" y="820.50" width="1.60" height="43.11" fill="#70b269"/>
<rect x="1587.73" y="826.54" width="10.30" height="1.40" fill="#66ad5e"/>
<rect x="1606.08" y="797.62" width="1.60" height="50.15" fill="#e4505a"/>
<rect x="1601.73" y="826.54" width="10.30" height="1.40" fill="#e2444f"/>
<rect x="1620.08" y="807.30" width="1.60" height="71.26" fill="#e4505a"/>
<rect x="1615.72" y="828.71" width="10.30" height="30.79" fill="#e2444f"/>
<rect x="1634.07" y="810.23" width="1.60" height="58.06" fill="#70b269"/>
<rect x="1629.72" y="811.11" width="10.30" height="48.39" fill="#66ad5e"/>
<rect x="1648.07" y="797.62" width="1.60" height="34.02" fill="#70b269"/>
<rect x="1643.71" y="806.42" width="10.30" height="4.69" fill="#66ad5e"/>
<rect x="1662.06" y="744.25" width="1.60" height="72.43" fill="#70b269"/>
<rect x="1657.71" y="746.30" width="10.30" height="60.12" fill="#66ad5e"/>
<rect x="1676.06" y="722.26" width="1.60" height="43.11" fill="#e4505a"/>
<rect x="1671.70" y="746.30" width="10.30" height="10.26" fill="#e2444f"/>
<rect x="1690.05" y="739.85" width="1.60" height="31.67" fill="#70b269"/>
<rect x="1685.70" y="744.84" width="10.30" height="11.73" fill="#66ad5e"/>
<rect x="1704.05" y="742.79" width="1.60" height="46.04" fill="#e4505a"/>
<rect x="1699.69" y="744.25" width="10.30" height="30.79" fill="#e2444f"/>
<rect x="1718.04" y="744.84" width="1.60" height="39.00" fill="#70b269"/>
<rect x="1713.69" y="744.84" width="10.30" height="30.21" fill="#66ad5e"/>
<rect x="1732.04" y="721.67" width="1.60" height="37.24" fill="#e4505a"/>
<rect x="1727.68" y="744.84" width="10.30" height="11.14" fill="#e2444f"/>
<rect x="1746.03" y="755.10" width="1.60" height="41.35" fill="#e4505a"/>
<rect x="1741.68" y="755.98" width="10.30" height="23.46" fill="#e2444f"/>
<rect x="1760.03" y="777.98" width="1.60" height="39.00" fill="#e4505a"/>
<rect x="1755.67" y="779.44" width="10.30" height="32.26" fill="#e2444f"/>
<rect x="1774.02" y="780.32" width="1.60" height="37.24" fill="#70b269"/>
<rect x="1769.67" y="794.11" width="10.30" height="17.60" fill="#66ad5e"/>
<rect x="1788.02" y="760.38" width="1.60" height="35.78" fill="#70b269"/>
<rect x="1783.66" y="769.18" width="10.30" height="24.34" fill="#66ad5e"/>
<rect x="1802.01" y="753.05" width="1.60" height="20.53" fill="#e4505a"/>
<rect x="1797.66" y="767.89" width="10.30" height="1.40" fill="#e2444f"/>
<rect x="1816.01" y="767.71" width="1.60" height="41.06" fill="#e4505a"/>
<rect x="1811.65" y="769.18" width="10.30" height="18.18" fill="#e2444f"/>
<rect x="1830.00" y="709.06" width="1.60" height="81.23" fill="#70b269"/>
<rect x="1825.65" y="720.79" width="10.30" height="66.57" fill="#66ad5e"/>
<rect x="1844.00" y="706.72" width="1.60" height="145.45" fill="#e4505a"/>
<rect x="1839.64" y="720.79" width="10.30" height="49.27" fill="#e2444f"/>
<rect x="1857.99" y="764.19" width="1.60" height="77.71" fill="#e4505a"/>
<rect x="1853.64" y="770.65" width="10.30" height="38.71" fill="#e2444f"/>
<rect x="1871.99" y="767.71" width="1.60" height="53.67" fill="#70b269"/>
<rect x="1867.63" y="772.99" width="10.30" height="36.36" fill="#66ad5e"/>
<rect x="1885.98" y="761.85" width="1.60" height="61.58" fill="#e4505a"/>
<rect x="1881.63" y="772.99" width="10.30" height="24.93" fill="#e2444f"/>
<rect x="1899.98" y="796.16" width="1.60" height="77.13" fill="#e4505a"/>
<rect x="1895.62" y="797.92" width="10.30" height="36.66" fill="#e2444f"/>
<rect x="1913.97" y="816.69" width="1.60" height="99.12" fill="#e4505a"/>
<rect x="1909.62" y="834.57" width="10.30" height="73.02" fill="#e2444f"/>
<rect x="1927.97" y="894.75" width="1.60" height="119.39" fill="#e4505a"/>
<rect x="1923.62" y="907.66" width="10.30" height="56.61" fill="#e2444f"/>
<rect x="1941.96" y="915.87" width="1.60" height="59.25" fill="#70b269"/>
<rect x="1937.61" y="935.82" width="10.30" height="28.45" fill="#66ad5e"/>
<rect x="1955.96" y="908.54" width="1.60" height="78.62" fill="#70b269"/>
<rect x="1951.61" y="934.24" width="10.30" height="1.40" fill="#66ad5e"/>
<rect x="1969.95" y="905.02" width="1.60" height="51.92" fill="#e4505a"/>
<rect x="1965.60" y="935.82" width="10.30" height="17.31" fill="#e2444f"/>
<rect x="1983.95" y="936.41" width="1.60" height="45.47" fill="#70b269"/>
<rect x="1979.60" y="949.61" width="10.30" height="3.52" fill="#66ad5e"/>
<rect x="1997.94" y="934.94" width="1.60" height="31.39" fill="#e4505a"/>
<rect x="1993.59" y="949.61" width="10.30" height="4.99" fill="#e2444f"/>
<rect x="2011.94" y="925.26" width="1.60" height="38.13" fill="#70b269"/>
<rect x="2007.59" y="927.61" width="10.30" height="26.99" fill="#66ad5e"/>
<rect x="2025.93" y="903.55" width="1.60" height="24.64" fill="#70b269"/>
<rect x="2021.58" y="911.47" width="10.30" height="16.13" fill="#66ad5e"/>
<line x1="1544.5" y1="911.2" x2="2132" y2="911.2" stroke="#768a73" stroke-width="1.25" stroke-dasharray="1.3 2.6"/>
<rect x="2222" y="29" width="98.9" height="29" rx="4" fill="#000" opacity="0.10" filter="url(#sh)"/>
<rect x="2222" y="24.5" width="98.9" height="32" rx="4" fill="#fff" stroke="#f0f0f2" stroke-width="1"/>
<text x="2226.50" y="47.60" font-size="15.8" fill="#16161a" font-weight="normal" text-anchor="start" textLength="41.60" lengthAdjust="spacing" >USDT</text>
<path d="M2309.7 40.2 L2312.6 43.1 L2315.5 40.2" fill="none" stroke="#16161a" stroke-width="1.6" stroke-linecap="round" stroke-linejoin="round"/>
<path d="M2134.7 900.3 H2215.9 V921.7 H2134.7 a3 3 0 0 1 -3 -3 V903.3 a3 3 0 0 1 3 -3 Z" fill="#5fae5c"/>
<path d="M2217.1 900.3 H2310 a3 3 0 0 1 3 3 V936.9 a3 3 0 0 1 -3 3 H2217.1 Z" fill="#5fae5c"/>
<text x="2137.6" y="916.5" font-size="15.2" fill="#f4fbf1" textLength="72.4" lengthAdjust="spacingAndGlyphs">BTCUSDT</text>
<text x="2227.80" y="916.30" font-size="15.5" fill="#f4fbf1" font-weight="normal" text-anchor="start" textLength="77.20" lengthAdjust="spacing" >93,699.35</text>
<text x="2227.80" y="934.30" font-size="15.5" fill="#dff3da" font-weight="normal" text-anchor="start" textLength="52.40" lengthAdjust="spacing" >5d 11h</text>
</g>
<path d="M438.35 1103.26 A16.0 16.0 0 1 1 427.04 1091.95" fill="none" stroke="#8a2da4" stroke-width="2.3" stroke-linecap="round"/>
<polygon points="427.46,1099.11 416.48,1107.76 422.90,1108.28 418.14,1115.94 429.53,1107.24 423.83,1106.00" fill="#8a2da4" stroke="#8a2da4" stroke-width="0.70" stroke-linejoin="round"/>
<circle cx="434.20" cy="1096.20" r="3.9" fill="#e23d48"/>
<path d="M1202.85 1098.26 A16.0 16.0 0 1 1 1191.54 1086.95" fill="none" stroke="#8a2da4" stroke-width="2.3" stroke-linecap="round"/>
<polygon points="1191.96,1094.11 1180.98,1102.76 1187.40,1103.28 1182.64,1110.94 1194.03,1102.24 1188.33,1101.00" fill="#8a2da4" stroke="#8a2da4" stroke-width="0.70" stroke-linejoin="round"/>
<circle cx="1198.70" cy="1091.20" r="3.9" fill="#e23d48"/>
<path d="M2038.67 1100.94 A12.6 12.6 0 1 1 2029.76 1092.03" fill="none" stroke="#8a2da4" stroke-width="1.9" stroke-linecap="round"/>
<polygon points="2030.09,1097.67 2021.44,1104.48 2026.50,1104.89 2022.75,1110.93 2031.72,1104.07 2027.23,1103.10" fill="#8a2da4" stroke="#8a2da4" stroke-width="0.55" stroke-linejoin="round"/>
<circle cx="2035.40" cy="1095.38" r="3.1" fill="#e23d48"/>
<polygon points="692.10,1151.10 697.59,1141.30 709.01,1141.30 714.50,1151.10 709.01,1160.90 697.59,1160.90" fill="none" stroke="#26262c" stroke-width="1.7" stroke-linejoin="round"/>
<circle cx="703.3" cy="1151.1" r="3.3" fill="none" stroke="#26262c" stroke-width="1.7"/>
<polygon points="1474.40,1146.30 1479.89,1136.50 1491.31,1136.50 1496.80,1146.30 1491.31,1156.10 1479.89,1156.10" fill="none" stroke="#26262c" stroke-width="1.7" stroke-linejoin="round"/>
<circle cx="1485.6" cy="1146.3" r="3.3" fill="none" stroke="#26262c" stroke-width="1.7"/>
<polygon points="2262.90,1139.70 2267.36,1131.70 2276.64,1131.70 2281.10,1139.70 2276.64,1147.70 2267.36,1147.70" fill="none" stroke="#26262c" stroke-width="1.5" stroke-linejoin="round"/>
<circle cx="2272.0" cy="1139.7" r="2.7" fill="none" stroke="#26262c" stroke-width="1.5"/>
<text x="317.4" y="177.5" font-size="42.9" font-weight="bold" fill="#000" textLength="119.0" lengthAdjust="spacingAndGlyphs">GOLD</text>
<text x="1079.6" y="178.1" font-size="42.9" font-weight="bold" fill="#000" textLength="142.3" lengthAdjust="spacingAndGlyphs">SILVER</text>
<text x="1848.2" y="178.2" font-size="42.9" font-weight="bold" fill="#000" textLength="175.5" lengthAdjust="spacingAndGlyphs">BITCOIN</text>
<rect x="0.00" y="715.0" width="15.30" height="7.1" fill="#000"/>
<rect x="22.20" y="715.0" width="20.90" height="7.1" fill="#000"/>
<rect x="50.00" y="715.0" width="20.90" height="7.1" fill="#000"/>
<rect x="77.80" y="715.0" width="20.90" height="7.1" fill="#000"/>
<rect x="105.60" y="715.0" width="20.90" height="7.1" fill="#000"/>
<rect x="133.40" y="715.0" width="20.90" height="7.1" fill="#000"/>
<rect x="161.20" y="715.0" width="20.90" height="7.1" fill="#000"/>
<rect x="189.00" y="715.0" width="20.90" height="7.1" fill="#000"/>
<rect x="216.80" y="715.0" width="20.90" height="7.1" fill="#000"/>
<rect x="244.60" y="715.0" width="20.90" height="7.1" fill="#000"/>
<rect x="272.40" y="715.0" width="20.90" height="7.1" fill="#000"/>
<rect x="300.20" y="715.0" width="20.90" height="7.1" fill="#000"/>
<rect x="328.00" y="715.0" width="20.90" height="7.1" fill="#000"/>
<rect x="355.80" y="715.0" width="20.90" height="7.1" fill="#000"/>
<rect x="383.60" y="715.0" width="20.90" height="7.1" fill="#000"/>
<rect x="411.40" y="715.0" width="20.90" height="7.1" fill="#000"/>
<rect x="439.20" y="715.0" width="20.90" height="7.1" fill="#000"/>
<rect x="467.00" y="715.0" width="20.90" height="7.1" fill="#000"/>
<rect x="494.80" y="715.0" width="20.90" height="7.1" fill="#000"/>
<rect x="522.60" y="715.0" width="20.90" height="7.1" fill="#000"/>
<rect x="550.40" y="715.0" width="20.90" height="7.1" fill="#000"/>
<rect x="578.20" y="715.0" width="20.90" height="7.1" fill="#000"/>
<rect x="606.00" y="715.0" width="20.90" height="7.1" fill="#000"/>
<rect x="633.80" y="715.0" width="20.90" height="7.1" fill="#000"/>
<rect x="661.60" y="715.0" width="20.90" height="7.1" fill="#000"/>
<rect x="689.40" y="715.0" width="20.90" height="7.1" fill="#000"/>
<rect x="717.20" y="715.0" width="20.90" height="7.1" fill="#000"/>
<rect x="745.00" y="715.0" width="20.90" height="7.1" fill="#000"/>
<rect x="772.80" y="715.0" width="20.90" height="7.1" fill="#000"/>
<rect x="800.60" y="715.0" width="20.90" height="7.1" fill="#000"/>
<rect x="828.40" y="715.0" width="20.90" height="7.1" fill="#000"/>
<rect x="856.20" y="715.0" width="20.90" height="7.1" fill="#000"/>
<rect x="884.00" y="715.0" width="20.90" height="7.1" fill="#000"/>
<rect x="911.80" y="715.0" width="20.90" height="7.1" fill="#000"/>
<rect x="939.60" y="715.0" width="20.90" height="7.1" fill="#000"/>
<rect x="967.40" y="715.0" width="20.90" height="7.1" fill="#000"/>
<rect x="995.20" y="715.0" width="20.90" height="7.1" fill="#000"/>
<rect x="1023.00" y="715.0" width="20.90" height="7.1" fill="#000"/>
<rect x="1050.80" y="715.0" width="20.90" height="7.1" fill="#000"/>
<rect x="1078.60" y="715.0" width="20.90" height="7.1" fill="#000"/>
<rect x="1106.40" y="715.0" width="20.90" height="7.1" fill="#000"/>
<rect x="1134.20" y="715.0" width="20.90" height="7.1" fill="#000"/>
<rect x="1162.00" y="715.0" width="20.90" height="7.1" fill="#000"/>
<rect x="1189.80" y="715.0" width="20.90" height="7.1" fill="#000"/>
<rect x="1217.60" y="715.0" width="20.90" height="7.1" fill="#000"/>
<rect x="1245.40" y="715.0" width="20.90" height="7.1" fill="#000"/>
<rect x="1273.20" y="715.0" width="20.90" height="7.1" fill="#000"/>
<rect x="1301.00" y="715.0" width="20.90" height="7.1" fill="#000"/>
<rect x="1328.80" y="715.0" width="20.90" height="7.1" fill="#000"/>
<rect x="1356.60" y="715.0" width="20.90" height="7.1" fill="#000"/>
<rect x="1384.40" y="715.0" width="20.90" height="7.1" fill="#000"/>
<rect x="1412.20" y="715.0" width="20.90" height="7.1" fill="#000"/>
<rect x="1440.00" y="715.0" width="20.90" height="7.1" fill="#000"/>
<rect x="1467.80" y="715.0" width="20.90" height="7.1" fill="#000"/>
<rect x="1495.60" y="715.0" width="20.90" height="7.1" fill="#000"/>
<rect x="1523.40" y="715.0" width="20.90" height="7.1" fill="#000"/>
<rect x="1551.20" y="715.0" width="20.90" height="7.1" fill="#000"/>
<rect x="1579.00" y="715.0" width="20.90" height="7.1" fill="#000"/>
<rect x="1606.80" y="715.0" width="20.90" height="7.1" fill="#000"/>
<rect x="1634.60" y="715.0" width="20.90" height="7.1" fill="#000"/>
<rect x="1662.40" y="715.0" width="20.90" height="7.1" fill="#000"/>
<rect x="1690.20" y="715.0" width="20.90" height="7.1" fill="#000"/>
<rect x="1718.00" y="715.0" width="20.90" height="7.1" fill="#000"/>
<rect x="1745.80" y="715.0" width="20.90" height="7.1" fill="#000"/>
<rect x="1773.60" y="715.0" width="20.90" height="7.1" fill="#000"/>
<rect x="1801.40" y="715.0" width="20.90" height="7.1" fill="#000"/>
<rect x="1829.20" y="715.0" width="20.90" height="7.1" fill="#000"/>
<rect x="1857.00" y="715.0" width="20.90" height="7.1" fill="#000"/>
<rect x="1884.80" y="715.0" width="20.90" height="7.1" fill="#000"/>
<rect x="1912.60" y="715.0" width="20.90" height="7.1" fill="#000"/>
<rect x="1940.40" y="715.0" width="20.90" height="7.1" fill="#000"/>
<rect x="1968.20" y="715.0" width="20.90" height="7.1" fill="#000"/>
<rect x="1996.00" y="715.0" width="20.90" height="7.1" fill="#000"/>
<rect x="2023.80" y="715.0" width="20.90" height="7.1" fill="#000"/>
<rect x="2051.60" y="715.0" width="20.90" height="7.1" fill="#000"/>
<rect x="2079.40" y="715.0" width="20.90" height="7.1" fill="#000"/>
<rect x="2107.20" y="715.0" width="20.90" height="7.1" fill="#000"/>
<rect x="2135.00" y="715.0" width="20.90" height="7.1" fill="#000"/>
<rect x="2162.80" y="715.0" width="20.40" height="7.1" fill="#000"/>
<text x="759.6" y="922.6" font-size="37" font-weight="bold" fill="#2c2c2c" stroke="#2c2c2c" stroke-width="1.1" stroke-linejoin="round" opacity="0.32" textLength="215.5" lengthAdjust="spacingAndGlyphs">@Ashcrypto</text>
</svg>
</body></html>
